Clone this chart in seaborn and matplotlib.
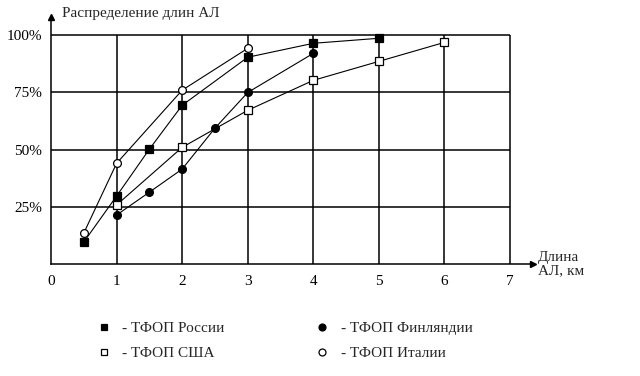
import seaborn as sns
import matplotlib.pyplot as plt
from matplotlib.lines import Line2D
import pandas as pd

# data
russia_x = [0.5, 1, 1.5, 2, 3, 4, 5]
russia_y = [9.6, 29.7, 50.2, 69.4, 90.4, 96.5, 98.7]
finland_x = [1, 1.5, 2, 2.5, 3, 4]
finland_y = [21.4, 31.4, 41.5, 59.4, 75.0, 92.1]
usa_x = [1, 2, 3, 4, 5, 6]
usa_y = [25.8, 51.0, 67.2, 80.3, 88.6, 96.9]
italy_x = [0.5, 1, 2, 3]
italy_y = [13.5, 44.0, 76.0, 94.3]

series = [
    ("- ТФОП России", russia_x, russia_y, "s", "black"),
    ("- ТФОП США", usa_x, usa_y, "s", "white"),
    ("- ТФОП Финляндии", finland_x, finland_y, "o", "black"),
    ("- ТФОП Италии", italy_x, italy_y, "o", "white"),
]
x_ticks = [0, 1, 2, 3, 4, 5, 6, 7]
y_ticks = [25, 50, 75, 100]
y_labels = ["25%", "50%", "75%", "100%"]

sns.set_style("white")
plt.rcParams['font.family'] = ['Liberation Serif', 'DejaVu Serif']

fig = plt.figure(figsize=(6.4, 3.76), dpi=100)
ax = fig.add_axes([51 / 640, 112 / 376, 482 / 640, 247 / 376])

# grid
ax.hlines(y_ticks, 0, 7, color="black", lw=1.1, zorder=1)
ax.vlines(x_ticks[1:], 0, 100, color="black", lw=1.1, zorder=1)

for label, xs, ys, mk, fc in series:
    df = pd.DataFrame({"x": xs, "y": ys})
    sns.lineplot(data=df, x="x", y="y", ax=ax, color="black", lw=0.8,
                 marker=mk, markersize=5.6, markerfacecolor=fc,
                 markeredgecolor="black", markeredgewidth=0.9, zorder=3)

ax.set_xlim(0, 7.35)
ax.set_ylim(0, 108)
ax.set_xticks(x_ticks)
ax.set_yticks(y_ticks)
ax.set_yticklabels(y_labels)
ax.set_xlabel("")
ax.set_ylabel("")
ax.tick_params(axis="both", labelsize=11, length=3, width=0.9, colors="black")
ax.tick_params(axis="x", length=0, pad=8)
for s in ["top", "right"]:
    ax.spines[s].set_visible(False)
for s in ["left", "bottom"]:
    ax.spines[s].set_color("black")
    ax.spines[s].set_linewidth(1.1)

# axis arrows
ax.plot(1, 0, ">k", ms=5, transform=ax.transAxes, clip_on=False)
ax.plot(0, 1, "^k", ms=5, transform=ax.transAxes, clip_on=False)

fig.text(62 / 640, 1 - 14 / 376, "Распределение длин АЛ", fontsize=11, va="center")
fig.text(538 / 640, 1 - 264 / 376, "Длина\nАЛ, км", fontsize=11, va="center",
         linespacing=1.0)

handles = [Line2D([], [], ls="none", marker=mk, ms=5, mfc=fc, mec="black", mew=0.9)
           for _, _, _, mk, fc in series]
labels = [s[0] for s in series]
fig.legend(handles, labels, ncol=2, loc="center left", frameon=False,
           bbox_to_anchor=(81 / 640, 1 - 341 / 376), fontsize=11,
           columnspacing=5.8, handletextpad=0.6, labelspacing=0.75,
           handlelength=1.2)

fig.savefig("out.png", dpi=100)
